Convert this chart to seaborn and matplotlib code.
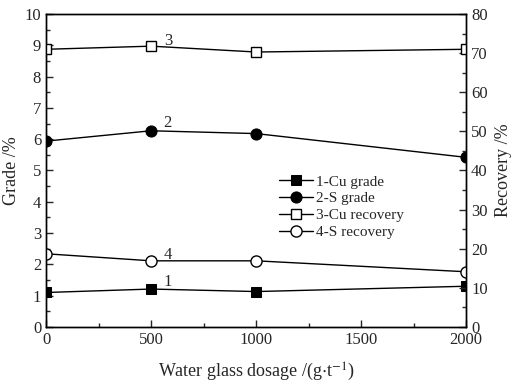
import pandas as pd
import matplotlib
matplotlib.use("Agg")
import matplotlib.pyplot as plt
import seaborn as sns
from matplotlib.ticker import MultipleLocator

# Data
dosage = [0, 500, 1000, 2000]
cu_grade = [1.10, 1.21, 1.13, 1.30]
s_grade = [5.94, 6.27, 6.18, 5.42]
cu_recovery = [71.0, 71.8, 70.3, 71.0]
s_recovery = [18.7, 16.9, 16.9, 14.1]

sns.set_style("ticks")
plt.rcParams["font.family"] = ["Liberation Serif", "DejaVu Serif"]
plt.rcParams["mathtext.fontset"] = "stix"

fig = plt.figure(figsize=(5.18, 3.81), dpi=100)
ax = fig.add_axes([0.089, 0.142, 0.811, 0.821])
ax2 = ax.twinx()

df = pd.DataFrame({
    "dosage": dosage,
    "cu_grade": cu_grade,
    "s_grade": s_grade,
    "cu_recovery": cu_recovery,
    "s_recovery": s_recovery,
})

sns.lineplot(data=df, x="dosage", y="cu_grade", ax=ax, color="black",
             marker="s", markersize=7, markerfacecolor="black",
             markeredgecolor="black", linewidth=1, label="1-Cu grade", legend=False)
sns.lineplot(data=df, x="dosage", y="s_grade", ax=ax, color="black",
             marker="o", markersize=8, markerfacecolor="black",
             markeredgecolor="black", linewidth=1, label="2-S grade", legend=False)
sns.lineplot(data=df, x="dosage", y="cu_recovery", ax=ax2, color="black",
             marker="s", markersize=7, markerfacecolor="white",
             markeredgecolor="black", markeredgewidth=1, linewidth=1,
             label="3-Cu recovery", legend=False)
sns.lineplot(data=df, x="dosage", y="s_recovery", ax=ax2, color="black",
             marker="o", markersize=8, markerfacecolor="white",
             markeredgecolor="black", markeredgewidth=1, linewidth=1,
             label="4-S recovery", legend=False)

# curve numbers
ax.text(560, 1.32, "1", fontsize=12)
ax.text(560, 6.38, "2", fontsize=12)
ax.text(560, 9.0, "3", fontsize=12)
ax.text(560, 2.18, "4", fontsize=12)

ax.set_xlim(0, 2000)
ax.set_ylim(0, 10)
ax2.set_ylim(0, 80)
ax.xaxis.set_major_locator(MultipleLocator(500))
ax.xaxis.set_minor_locator(MultipleLocator(250))
ax.yaxis.set_major_locator(MultipleLocator(1))
ax.yaxis.set_minor_locator(MultipleLocator(0.5))
ax2.yaxis.set_major_locator(MultipleLocator(10))
ax2.yaxis.set_minor_locator(MultipleLocator(5))

for a in (ax, ax2):
    a.tick_params(which="both", direction="in", labelsize=12, width=1)
    a.tick_params(which="major", length=5)
    a.tick_params(which="minor", length=3)
    for s in a.spines.values():
        s.set_linewidth(1)
        s.set_color("black")

ax.set_xlabel(r"Water glass dosage /(g$\cdot$t$^{-1}$)", fontsize=13, labelpad=9)
ax.set_ylabel("Grade /%", fontsize=13, labelpad=3)
ax2.set_ylabel("Recovery /%", fontsize=13, labelpad=5)

h1, l1 = ax.get_legend_handles_labels()
h2, l2 = ax2.get_legend_handles_labels()
ax.legend(h1 + h2, l1 + l2, loc="upper left", bbox_to_anchor=(0.54, 0.505),
          frameon=False, fontsize=11, handlelength=2.2, handletextpad=0.2,
          labelspacing=0.2, borderaxespad=0)

plt.savefig("out.png", dpi=100)
